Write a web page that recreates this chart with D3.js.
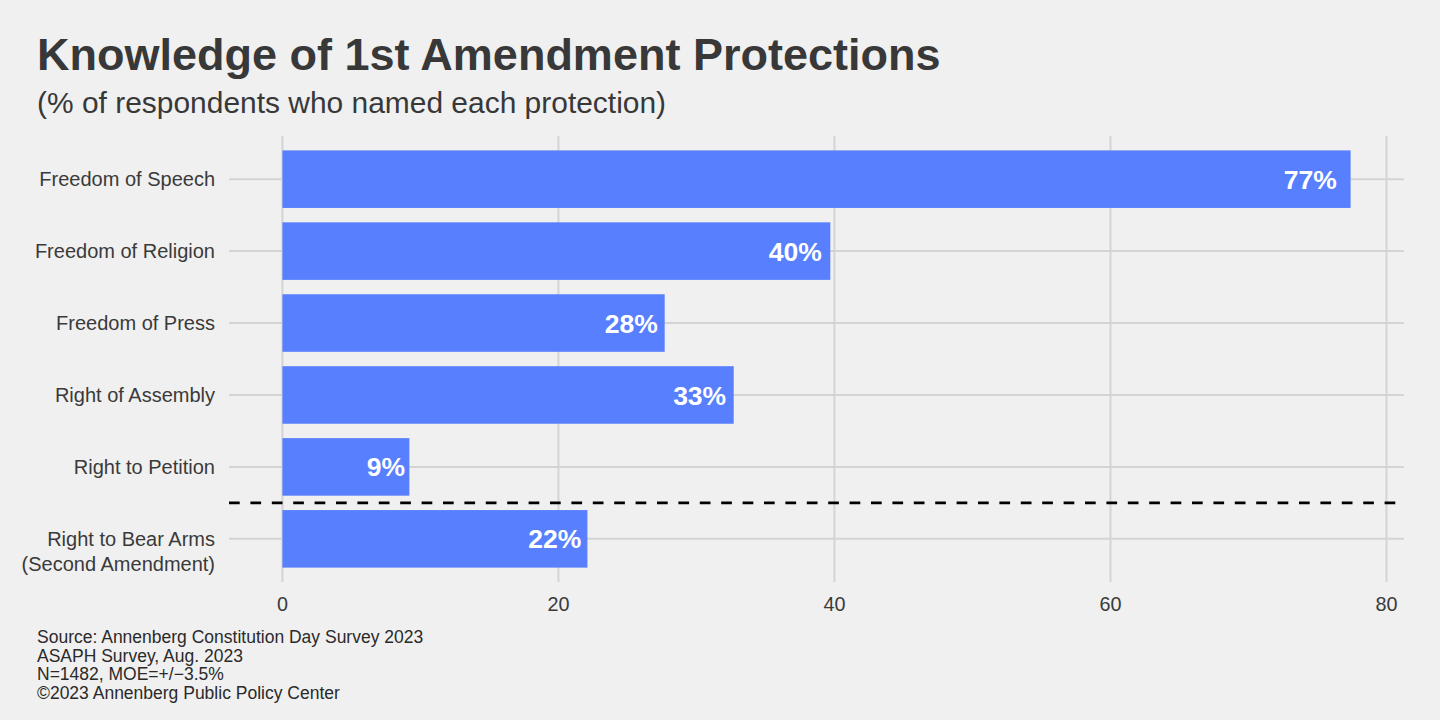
<!DOCTYPE html>
<html>
<head>
<meta charset="utf-8">
<script src="https://d3js.org/d3.v7.min.js"></script>
<style>
  body { margin: 0; background: #f0f0f0; }
  text { font-family: "Liberation Sans", Arial, sans-serif; }
</style>
</head>
<body>
<div id="graph"></div>
<script>
// data
var categories = ["Freedom of Speech", "Freedom of Religion", "Freedom of Press",
                  "Right of Assembly", "Right to Petition", "Right to Bear Arms\n(Second Amendment)"];
var values = [77.4, 39.7, 27.7, 32.7, 9.2, 22.1];
var xTicks = [0, 20, 40, 60, 80];
var captionLines = ["Source: Annenberg Constitution Day Survey 2023",
                    "ASAPH Survey, Aug. 2023",
                    "N=1482, MOE=+/\u22123.5%",
                    "\u00a92023 Annenberg Public Policy Center"];

var W = 1440, H = 720;
var panel = {left: 229, right: 1404, top: 136, bottom: 582};

var svg = d3.select("#graph").append("svg")
    .attr("width", W).attr("height", H);

svg.append("rect").attr("width", W).attr("height", H).attr("fill", "#f0f0f0");

// x scale with ggplot-style 5% expansion
var xmax = d3.max(values), pad = xmax * 0.05;
var x = d3.scaleLinear()
    .domain([-pad, xmax + pad])
    .range([panel.left, panel.right]);

var y = d3.scalePoint()
    .domain(categories)
    .range([panel.top, panel.bottom])
    .padding(0.6);
var barH = y.step() * 0.8;

var grid = svg.append("g").attr("stroke", "#d4d4d4").attr("stroke-width", 2);

// horizontal grid
grid.selectAll(".hg").data(categories).enter().append("line")
    .attr("x1", panel.left).attr("x2", panel.right)
    .attr("y1", function(d) { return y(d); })
    .attr("y2", function(d) { return y(d); });

// vertical grid
grid.selectAll(".vg").data(xTicks).enter().append("line")
    .attr("x1", function(d) { return x(d); })
    .attr("x2", function(d) { return x(d); })
    .attr("y1", panel.top).attr("y2", panel.bottom);

// bars
svg.append("g").selectAll("rect").data(values).enter().append("rect")
    .attr("x", x(0))
    .attr("y", function(d, i) { return y(categories[i]) - barH / 2; })
    .attr("width", function(d) { return x(d) - x(0); })
    .attr("height", barH)
    .attr("fill", "#577ffe");

// value labels, just inside the bar end
svg.append("g").selectAll("text").data(values).enter().append("text")
    .attr("x", function(d) { return x(d * 0.99) - 3; })
    .attr("y", function(d, i) { return y(categories[i]); })
    .attr("dy", "0.36em")
    .attr("text-anchor", "end")
    .attr("font-weight", "bold")
    .attr("font-size", "26.5px")
    .attr("fill", "#ffffff")
    .text(function(d) { return Math.round(d) + "%"; });

// dashed separator between 1st and 2nd amendment
var sepY = (y(categories[4]) + y(categories[5])) / 2;
svg.append("line")
    .attr("x1", panel.left).attr("x2", panel.right)
    .attr("y1", sepY).attr("y2", sepY)
    .attr("stroke", "#000")
    .attr("stroke-width", 2.8)
    .attr("stroke-dasharray", "10.7,10.7");

// y axis labels
var yl = svg.append("g").selectAll("text").data(categories).enter().append("text")
    .attr("x", 215)
    .attr("y", function(d) { return y(d); })
    .attr("text-anchor", "end")
    .attr("font-size", "20px")
    .attr("fill", "#3a3a3a");
yl.each(function(d) {
  var t = d3.select(this);
  d.split("\n").forEach(function(p, j) {
    t.append("tspan").attr("x", 215).attr("dy", j === 0 ? "0.36em" : "1.23em").text(p);
  });
});

// x axis tick labels
svg.append("g").selectAll("text").data(xTicks).enter().append("text")
    .attr("x", function(d) { return x(d); })
    .attr("y", 611)
    .attr("text-anchor", "middle")
    .attr("font-size", "19.8px")
    .attr("fill", "#3a3a3a")
    .text(function(d) { return d; });

// title and subtitle
svg.append("text")
    .attr("x", 37).attr("y", 70)
    .attr("font-weight", "bold")
    .attr("font-size", "45px")
    .attr("fill", "#383838")
    .text("Knowledge of 1st Amendment Protections");

svg.append("text")
    .attr("x", 37).attr("y", 113)
    .attr("font-size", "29.95px")
    .attr("fill", "#383838")
    .text("(% of respondents who named each protection)");

// caption
svg.append("g").selectAll("text").data(captionLines).enter().append("text")
    .attr("x", 37)
    .attr("y", function(d, i) { return 643 + i * 18.7; })
    .attr("font-size", "17.5px")
    .attr("fill", "#2a2a2a")
    .text(function(d) { return d; });
</script>
</body>
</html>
